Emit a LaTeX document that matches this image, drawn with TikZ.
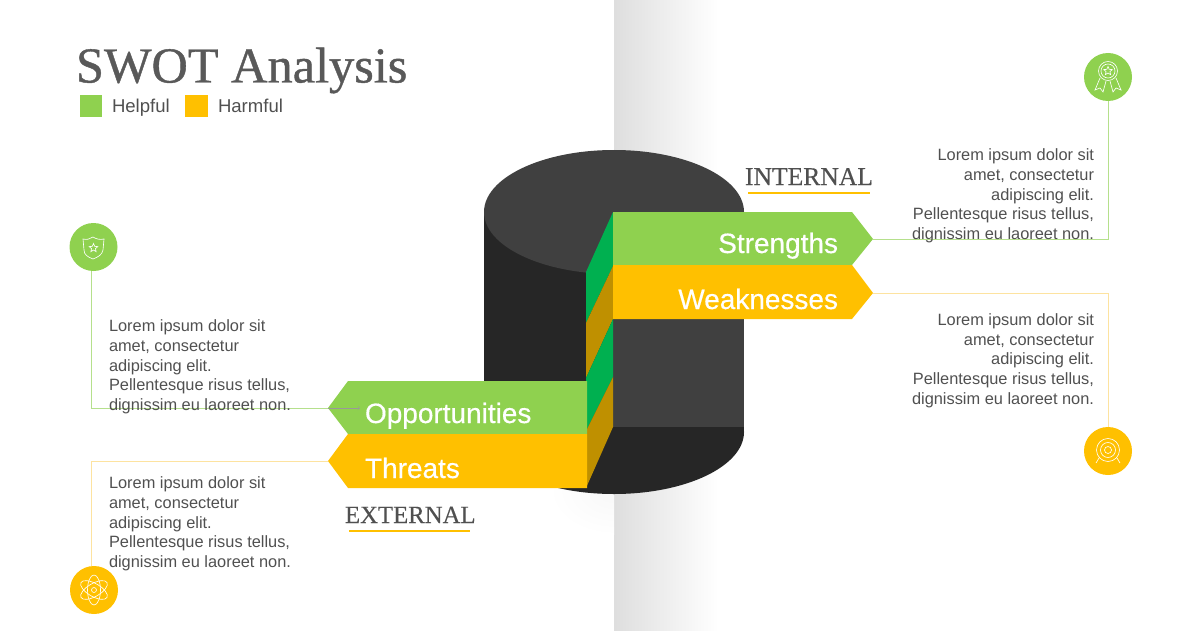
\documentclass[tikz,border=0pt]{standalone}
\usepackage{fontspec}
\setmainfont{Liberation Sans}
\newfontfamily\titlefont[FakeBold=0.8]{Liberation Serif}
\newfontfamily\scopefont[FakeBold=0.3]{Liberation Serif}
\newfontfamily\tagfont[FakeBold=0.4]{Liberation Sans}
\usetikzlibrary{shapes.geometric}

\definecolor{helpful}{HTML}{8FD14F}
\definecolor{harmful}{HTML}{FFC000}
\definecolor{helpfuldark}{HTML}{00B050}
\definecolor{harmfuldark}{HTML}{BF9000}
\definecolor{helpfulline}{HTML}{B5E08C}
\definecolor{harmfulline}{HTML}{FDE3A0}
\definecolor{cyldark}{HTML}{262626}
\definecolor{cyllight}{HTML}{404040}
\definecolor{bodytext}{HTML}{505050}

\tikzstyle{every node}=[inner sep=0pt,outer sep=0pt]
\tikzstyle{body}=[font=\fontsize{11.64}{14}\selectfont,text=bodytext,align=left,anchor=north west]
\tikzstyle{bodyright}=[font=\fontsize{11.64}{14}\selectfont,text=bodytext,align=right,anchor=north east]
\tikzstyle{tag}=[font=\tagfont\fontsize{19.9}{24}\selectfont,text=white]
\tikzstyle{scope label}=[text=bodytext,anchor=base west]
\tikzstyle{legend}=[font=\fontsize{13.2}{16}\selectfont,text=bodytext,anchor=base west]
\tikzstyle{icon}=[circle,minimum size=48*0.025cm]
\tikzstyle{link}=[line width=0.7pt]
\tikzstyle{glyph}=[draw=white,line width=0.45pt]
\tikzstyle{glyphstar}=[star,star points=5,star point ratio=2.2,draw=white,line width=0.45pt,minimum size=9*0.025cm]

\newcommand{\loremleft}{Lorem ipsum dolor sit\\amet, consectetur\\adipiscing elit.\\Pellentesque risus tellus,\\dignissim eu laoreet non.}

\begin{document}
\begin{tikzpicture}[x=0.025cm,y=-0.025cm]
\useasboundingbox (0,0) rectangle (1200,630);

% BACKGROUND

\shade[left color=black!13,right color=white] (614,0) rectangle (718,630);
\begin{scope}
	\clip (530,480) rectangle (614,540);
	\shade[inner color=black!3,outer color=white] (614,490) ellipse [x radius=65,y radius=45];
\end{scope}

% CYLINDER

\fill[cyldark] (484,212) rectangle (744,432);
\fill[cyldark] (614,432) ellipse [x radius=130,y radius=62];
\fill[cyllight] (614,212) ellipse [x radius=130,y radius=62];
\fill[cyllight] (613,319) rectangle (744,427);

% FACETS

\fill[helpfuldark] (613,212) -- (586,272) -- (586,323) -- (613,266) -- cycle;
\fill[harmfuldark] (613,266) -- (586,323) -- (586,378) -- (613,319) -- cycle;
\fill[helpfuldark] (613,319) -- (586,378) -- (586,431) -- (613,377) -- cycle;
\fill[harmfuldark] (613,377) -- (586,431) -- (586,488) -- (613,427) -- cycle;

% TIPS

\coordinate (tipS) at (873,239);
\coordinate (tipW) at (873,293);
\coordinate (tipO) at (328,408);
\coordinate (tipT) at (328,461);
\coordinate (cornerO) at (91,408);
\coordinate (cornerT) at (91,461);
\coordinate (arrowO) at (360,408);

% STRENGTHS AND WEAKNESSES

\fill[helpful] (613,212) -- (852,212) -- (tipS) -- (852,265) -- (613,265) -- cycle;
\fill[harmful] (613,265) -- (852,265) -- (tipW) -- (852,319) -- (613,319) -- cycle;
\node[tag,anchor=base east] (strengths) at (838,253) {Strengths};
\node[tag,anchor=base east] (weaknesses) at (838,309) {Weaknesses};

% OPPORTUNITIES AND THREATS

\fill[helpful] (587,381) -- (348,381) -- (tipO) -- (348,434) -- (587,434) -- cycle;
\fill[harmful] (587,434) -- (348,434) -- (tipT) -- (348,488) -- (587,488) -- cycle;
\node[tag,anchor=base west] (opportunities) at (365,423) {Opportunities};
\node[tag,anchor=base west] (threats) at (365,478) {Threats};

% ICONS

\node[icon,fill=helpful] (iconS) at (1108,77) {};
\node[icon,fill=harmful] (iconW) at (1108,451) {};
\node[icon,fill=helpful] (iconO) at (93.5,247) {};
\node[icon,fill=harmful] (iconT) at (94,590) {};

% CONNECTORS

\draw[link,helpfulline] (tipS) -| (iconS);
\draw[link,harmfulline] (tipW) -| (iconW);
\draw[link,helpfulline] (tipO) -- (cornerO) -- (cornerO |- iconO.south);
\draw[link,harmfulline] (tipT) -- (cornerT) -- (cornerT |- iconT.north);
\draw[->,black!40,line width=0.3pt] (tipO) -- (arrowO);

% RIBBON

\draw[glyph] (1108,71) circle [radius=9.5];
\draw[glyph] (1108,71) circle [radius=7];
\node[glyphstar] (starS) at (1108,71) {};
\draw[glyph] (1100,78) -- (1095,90) -- (1100,88) -- (1103,92) -- (1106,81);
\draw[glyph] (1116,78) -- (1121,90) -- (1116,88) -- (1113,92) -- (1110,81);

% SHIELD

\draw[glyph] (83,239) .. controls (87,240) and (90,239) .. (93,237) .. controls (96,239) and (100,240) .. (104,239) -- (103,250) .. controls (102,255) and (98,257) .. (93,259) .. controls (88,257) and (84,255) .. (84,250) -- cycle;
\node[glyphstar] (starO) at (93.5,248) {};

% ATOM

\foreach \a in {30,90,150}
	\draw[glyph,rotate around={\a:(94,590)}] (94,590) ellipse [x radius=15,y radius=6.5];
\draw[glyph] (94,590) circle [radius=2.5];

% TARGET

\foreach \r in {11.5,7.5,3.5}
	\draw[glyph] (1108,450) circle [radius=\r];
\draw[glyph] (1099,458) -- (1096,463);
\draw[glyph] (1117,458) -- (1120,463);

% TITLE

\node[font=\titlefont\fontsize{35.8}{40}\selectfont,text=black!65,anchor=base west] (title) at (76,82.5) {SWOT Analysis};
\fill[helpful] (80,95) rectangle (102,117);
\fill[harmful] (185,95) rectangle (208,117);
\node[legend] (helpfullabel) at (112,113) {Helpful};
\node[legend] (harmfullabel) at (218,113) {Harmful};

% SCOPE LABELS

\node[scope label,font=\scopefont\fontsize{18.2}{22}\selectfont] (internal) at (745,185) {INTERNAL};
\draw[harmful,line width=1.4pt] (748,193) -- (870,193);
\node[scope label,font=\scopefont\fontsize{17.6}{22}\selectfont] (external) at (345,523) {EXTERNAL};
\draw[harmful,line width=1.4pt] (349,531) -- (470,531);

% BODY TEXT

\node[bodyright] (textS) at (1094,149) {\loremleft};
\node[bodyright] (textW) at (1094,313.5) {\loremleft};
\node[body] (textO) at (109,320) {\loremleft};
\node[body] (textT) at (109,477) {\loremleft};

\end{tikzpicture}
\end{document}
